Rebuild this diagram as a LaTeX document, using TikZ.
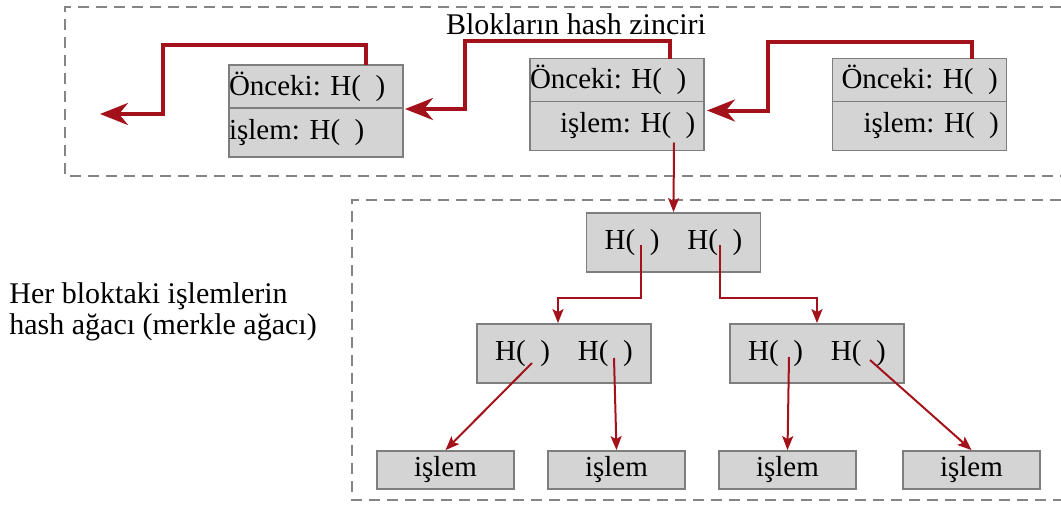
\documentclass[tikz,border=0pt]{standalone}
\usepackage{fontspec}
\setmainfont{Liberation Serif}
\usetikzlibrary{positioning,arrows.meta}
\definecolor{boxfill}{HTML}{D4D4D4}
\definecolor{boxline}{HTML}{7E7E7E}
\definecolor{dashgray}{HTML}{858585}
\definecolor{chainred}{HTML}{A3121B}
\newcommand{\Hp}{H(\hspace{0.5em})}
\frenchspacing

\begin{document}
\begin{tikzpicture}[x=0.5pt, y=-0.5pt,
  font=\fontsize{14.5}{16}\selectfont,
  blk/.style={draw=boxline, fill=boxfill, line width=0.9pt, inner sep=0pt, outer sep=0pt,
              text width=87pt, align=left},
  prevpart/.style={blk, minimum height=21.5pt},
  txpart/.style={blk, minimum height=24.5pt},
  hnode/.style={draw=boxline, fill=boxfill, line width=0.9pt, inner sep=0pt,
                minimum width=87pt, minimum height=29.5pt},
  leaf/.style={draw=boxline, fill=boxfill, line width=0.9pt, inner sep=0pt,
               minimum width=68.5pt, minimum height=19pt},
  region/.style={draw=dashgray, line width=1.2pt, dash pattern=on 5.5pt off 3.5pt},
  chain/.style={draw=chainred, line width=2pt, -{Stealth[length=14pt,width=11pt,inset=4.5pt]}},
  tree/.style={draw=chainred, line width=1pt, -{Stealth[length=7pt,width=5.5pt,inset=1.5pt]}}]
  \useasboundingbox (0,0) rectangle (1061,504);
  % dashed regions
  \draw[region] (1061,7) -| (65,176) -- (1061,176);
  \draw[region] (1061,200) -| (352,500) -- (1061,500);
  \node[font=\fontsize{15}{16}\selectfont] (title) at (576,24) {Blokların hash zinciri};
  \node[anchor=west, align=left, inner sep=0pt, font=\fontsize{15}{15.5}\selectfont] (caption) at (9,312)
       {Her bloktaki işlemlerin\\hash ağacı (merkle ağacı)};
  % blocks
  \node[prevpart] (prev1) at (316,86.5) {Önceki: \Hp};
  \node[txpart, below=0pt of prev1] (tx1) {işlem: \Hp};
  \node[prevpart] (prev2) at (617,80) {Önceki: \Hp};
  \node[txpart, below=0pt of prev2] (tx2) {\hspace*{15pt}işlem: \Hp};
  \node[prevpart] (prev3) at (919.5,80) {\hspace*{4.5pt}Önceki: \Hp};
  \node[txpart, below=0pt of prev3] (tx3) {\hspace*{15.5pt}işlem: \Hp};
  % merkle tree
  \node[hnode] (root) at (673.5,242.5) {\Hp\hspace{14pt}\Hp};
  \node[hnode] (midL) at (564,353.5)   {\Hp\hspace{14pt}\Hp};
  \node[hnode] (midR) at (817,353.5)   {\Hp\hspace{14pt}\Hp};
  \node[leaf] (leaf1) at (445.5,470) {işlem};
  \node[leaf] (leaf2) at (616.5,470) {işlem};
  \node[leaf] (leaf3) at (787.5,470) {\raisebox{-2pt}{işlem}};
  \node[leaf] (leaf4) at (971.5,470) {işlem};
  % hash pointers
  \coordinate (genesis) at (100,114);
  \draw[chain] ([xshift=25pt]prev1.north) |- (163,45) |- (genesis);
  \draw[chain] ([xshift=26.5pt]prev2.north) |- (465,41) |- ([shift={(2,1)}]tx1.north east);
  \draw[chain] ([xshift=26pt]prev3.north) |- (768,42) |- ([shift={(3,9)}]tx2.north east);
  \draw[tree] ([shift={(57,16.5)}]tx2.center) -- (root.north);
  \draw[tree] ([shift={(-32.5,2.5)}]root.center) -- ++(0,53) -| ([xshift=-3pt]midL.north);
  \draw[tree] ([shift={(46.5,2.5)}]root.center) -- ++(0,53) -| (midR.north);
  \draw[tree] ([shift={(-32,9.5)}]midL.center) -- (leaf1.north);
  \draw[tree] ([shift={(50,4.5)}]midL.center) -- (leaf2.north);
  \draw[tree] ([shift={(-28,3.5)}]midR.center) -- (leaf3.north);
  \draw[tree] ([shift={(53,6.5)}]midR.center) -- (leaf4.north);
\end{tikzpicture}
\end{document}
